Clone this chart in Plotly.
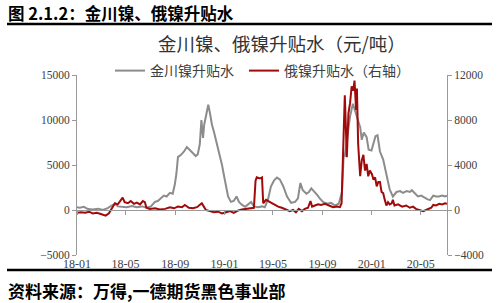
import plotly.graph_objects as go

# 金川镍升贴水 (left axis, 元/吨)
jc_dates = ["2018-01-01","2018-01-08","2018-01-18","2018-01-28","2018-02-09","2018-02-22","2018-03-06","2018-03-18",
            "2018-03-28","2018-04-05","2018-04-12","2018-04-22","2018-05-04","2018-05-17","2018-05-29","2018-06-11",
            "2018-06-23","2018-07-03","2018-07-13","2018-07-20","2018-07-28","2018-08-04","2018-08-11","2018-08-19",
            "2018-08-26","2018-08-31","2018-09-04","2018-09-08","2018-09-15","2018-09-23","2018-09-30","2018-10-07",
            "2018-10-15","2018-10-22","2018-10-27","2018-11-01","2018-11-05","2018-11-09","2018-11-12","2018-11-19",
            "2018-11-22","2018-11-26","2018-12-01","2018-12-06","2018-12-11","2018-12-16","2018-12-21","2018-12-26",
            "2018-12-31","2019-01-05","2019-01-10","2019-01-17","2019-01-24","2019-01-31","2019-02-06","2019-02-13",
            "2019-02-21","2019-02-28","2019-03-08","2019-03-15","2019-03-25","2019-04-04","2019-04-11","2019-04-19",
            "2019-04-26","2019-05-04","2019-05-11","2019-05-18","2019-05-26","2019-06-05","2019-06-15","2019-06-25",
            "2019-07-02","2019-07-08","2019-07-14","2019-07-23","2019-07-29","2019-08-04","2019-08-11","2019-08-18",
            "2019-08-25","2019-09-02","2019-09-12","2019-09-22","2019-10-02","2019-10-11","2019-10-19","2019-10-23",
            "2019-10-26","2019-10-31","2019-11-08","2019-11-15","2019-11-20","2019-11-25","2019-12-03","2019-12-07",
            "2019-12-12","2019-12-19","2019-12-24","2019-12-31","2020-01-04","2020-01-10","2020-01-15","2020-01-21",
            "2020-01-29","2020-02-06","2020-02-14","2020-02-22","2020-03-02","2020-03-11","2020-03-18","2020-03-27",
            "2020-04-04","2020-04-09","2020-04-17","2020-04-24","2020-05-02","2020-05-09","2020-05-17","2020-05-24",
            "2020-06-01","2020-06-08","2020-06-15","2020-06-23","2020-06-30","2020-07-05"]
jc_values = [300,250,350,100,50,150,0,200,
             500,700,400,350,300,450,300,400,
             250,400,900,1000,1300,1600,1500,1900,
             1800,2800,4000,5900,6100,6500,7000,6700,
             6400,6000,6200,7300,10000,8000,9500,11100,
             11700,10800,9500,8700,7800,7000,6000,5000,
             3800,2500,1500,900,1000,1500,900,600,
             350,600,900,400,300,400,300,1200,
             2600,3300,3600,3400,2700,1500,800,900,
             1300,3000,2200,1800,2000,2400,2100,1700,
             1300,900,700,800,500,700,2000,5900,
             6000,7800,10400,11800,11100,10500,9200,7800,
             8600,8100,6700,6600,7200,8200,8300,6500,
             5600,3800,2300,1500,2000,2100,1900,2100,
             2000,2200,1800,1500,1600,1400,1200,1100,
             1600,1500,1500,1600,1500,1600]

# 俄镍升贴水 (right axis, 元/吨)
ru_dates = ["2018-01-01","2018-01-11","2018-01-21","2018-01-31","2018-02-09","2018-02-19","2018-03-01","2018-03-08",
            "2018-03-13","2018-03-21","2018-03-28","2018-04-05","2018-04-12","2018-04-20","2018-04-24","2018-04-29",
            "2018-05-07","2018-05-14","2018-05-22","2018-05-29","2018-06-06","2018-06-13","2018-06-18","2018-06-22",
            "2018-06-30","2018-07-13","2018-07-25","2018-08-07","2018-08-19","2018-08-29","2018-09-08","2018-09-18",
            "2018-09-25","2018-10-05","2018-10-15","2018-10-25","2018-11-01","2018-11-06","2018-11-11","2018-11-16",
            "2018-11-26","2018-12-06","2018-12-16","2018-12-26","2019-01-05","2019-01-15","2019-01-24","2019-02-03",
            "2019-02-13","2019-02-23","2019-03-05","2019-03-15","2019-03-19","2019-03-22","2019-03-30","2019-04-04",
            "2019-04-07","2019-04-14","2019-04-24","2019-05-04","2019-05-14","2019-05-23","2019-06-02","2019-06-12",
            "2019-06-20","2019-06-27","2019-07-04","2019-07-12","2019-07-19","2019-07-27","2019-08-02","2019-08-06",
            "2019-08-13","2019-08-21","2019-08-28","2019-09-07","2019-09-17","2019-09-27","2019-10-07","2019-10-14",
            "2019-10-18","2019-10-22","2019-10-26","2019-10-31","2019-11-04","2019-11-08","2019-11-12","2019-11-16",
            "2019-11-19","2019-11-23","2019-11-25","2019-11-28","2019-12-03","2019-12-07","2019-12-11","2019-12-15",
            "2019-12-19","2019-12-23","2019-12-27","2020-01-01","2020-01-05","2020-01-09","2020-01-13","2020-01-17",
            "2020-01-21","2020-01-25","2020-01-29","2020-02-02","2020-02-06","2020-02-10","2020-02-14","2020-02-19",
            "2020-02-22","2020-02-26","2020-03-06","2020-03-16","2020-03-26","2020-04-04","2020-04-12","2020-04-19",
            "2020-04-29","2020-05-07","2020-05-14","2020-05-22","2020-05-27","2020-06-01","2020-06-08","2020-06-16",
            "2020-06-23","2020-06-30","2020-07-05"]
ru_values = [-250,-200,-250,-150,-300,-250,-350,-450,
             -500,-300,100,600,500,900,1100,700,
             600,800,550,650,500,800,700,200,
             100,150,50,100,250,150,300,250,
             450,200,150,250,450,600,300,0,
             -100,-200,-150,-300,-200,-100,-250,-50,
             50,100,100,200,2600,2900,2800,2900,
             600,900,700,500,300,200,50,-100,
             0,-200,100,-100,100,200,800,300,
             400,500,450,550,400,250,300,250,
             600,6500,10200,4700,8600,9500,11000,10600,
             11500,8900,10800,5900,3000,4400,4900,3500,
             4100,3000,3500,3200,2700,2900,2100,2500,
             2500,1600,1500,900,400,700,500,600,
             900,400,500,300,400,200,300,100,
             0,-100,0,100,200,450,400,550,
             500,600,550]

left_ticks = [-5000, 0, 5000, 10000, 15000]
right_ticks = [-4000, 0, 4000, 8000, 12000]

TICKFONT = dict(family="Liberation Serif, serif", size=11.5, color="#404040")
XTICKFONT = dict(family="Liberation Serif, serif", size=12, color="#404040")
CJK = "Noto Sans CJK SC"
LEGFONT = dict(family=CJK, size=14, color="#404040")

fig = go.Figure()
fig.add_trace(go.Scatter(x=jc_dates, y=jc_values, name="金川镍升贴水", mode="lines",
                         line=dict(color="#8c8c8c", width=2), xaxis="x", yaxis="y", legend="legend"))
fig.add_trace(go.Scatter(x=ru_dates, y=ru_values, name="俄镍升贴水（右轴）", mode="lines",
                         line=dict(color="#a00a0a", width=2), xaxis="x", yaxis="y2", legend="legend2"))
# invisible helper trace so the zero-line axis (x2) is drawn
fig.add_trace(go.Scatter(x=jc_dates, y=jc_values, mode="lines", line=dict(width=0, color="rgba(0,0,0,0)"),
                         showlegend=False, hoverinfo="skip", xaxis="x2", yaxis="y"))

xrange = ["2018-01-01", "2020-07-05"]
fig.update_layout(
    width=500, height=303,
    margin=dict(l=77, r=53, t=75, b=48, autoexpand=False),
    paper_bgcolor="white", plot_bgcolor="white",
    showlegend=True,
    legend=dict(orientation="h", xref="paper", yref="paper", x=(110 - 77) / 370, y=1 + 4 / 180,
                xanchor="left", yanchor="middle", bgcolor="rgba(0,0,0,0)", font=LEGFONT),
    legend2=dict(orientation="h", xref="paper", yref="paper", x=(244 - 77) / 370, y=1 + 4 / 180,
                 xanchor="left", yanchor="middle", bgcolor="rgba(0,0,0,0)", font=LEGFONT),
    xaxis=dict(range=xrange, type="date", tick0="2018-01-01", dtick="M4", tickformat="%y-%m",
               showline=False, ticks="", showgrid=False, zeroline=False, tickfont=XTICKFONT),
    xaxis2=dict(range=xrange, type="date", overlaying="x", anchor="free", position=0.25,
                tick0="2018-01-01", dtick="M4", showticklabels=False, showline=True,
                linecolor="#9a9a9a", linewidth=1, ticks="outside", ticklen=4, tickcolor="#9a9a9a",
                showgrid=False, zeroline=False),
    yaxis=dict(range=[-5000, 15000], tickvals=left_ticks, tickformat="d", showline=True,
               linecolor="#9a9a9a", linewidth=1, ticks="outside", ticklen=4, tickcolor="#9a9a9a",
               showgrid=False, zeroline=False, tickfont=TICKFONT),
    yaxis2=dict(range=[-4000, 12000], tickvals=right_ticks, tickformat="d", overlaying="y",
                side="right", showline=True, linecolor="#9a9a9a", linewidth=1, ticks="outside",
                ticklen=4, tickcolor="#9a9a9a", showgrid=False, zeroline=False, tickfont=TICKFONT),
)

# chart title
fig.add_annotation(text="金川镍、俄镍升贴水（元/吨）", xref="paper", yref="paper",
                   x=(282 - 77) / 370, y=1 + 32 / 180, xanchor="center", yanchor="middle",
                   showarrow=False, font=dict(family=CJK, size=18.5, color="#333333"))
# header
fig.add_annotation(text="<b>图 2.1.2：金川镍、俄镍升贴水</b>", xref="paper", yref="paper",
                   x=-71 / 370, y=1 + 62 / 180, xanchor="left", yanchor="middle",
                   showarrow=False, font=dict(family=CJK, size=16.5, color="black"))
# footer
fig.add_annotation(text="<b>资料来源：万得,一德期货黑色事业部</b>", xref="paper", yref="paper",
                   x=-71 / 370, y=-35 / 180, xanchor="left", yanchor="middle",
                   showarrow=False, font=dict(family=CJK, size=17, color="black"))
# rules
fig.add_shape(type="line", xref="paper", yref="paper", x0=-70 / 370, x1=415 / 370,
              y0=1 + 51 / 180, y1=1 + 51 / 180, line=dict(color="black", width=2.5))
fig.add_shape(type="line", xref="paper", yref="paper", x0=-70 / 370, x1=415 / 370,
              y0=-15 / 180, y1=-15 / 180, line=dict(color="black", width=2.5))

fig.write_html("out.html")
